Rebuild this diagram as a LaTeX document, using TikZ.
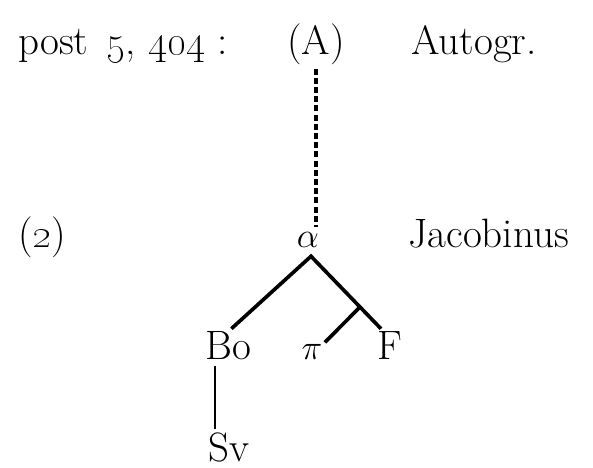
\documentclass[tikz,border=0pt]{standalone}
\usetikzlibrary{calc}
\begin{document}
\begin{tikzpicture}[x=2.5mm,y=2.5mm,
	every node/.style={inner sep=0pt,font=\fontsize{29.2pt}{35pt}\selectfont},
	branch/.style={line width=2.6pt},
	stem/.style={line width=1.7pt},
	lost/.style={line width=2.6pt,dash pattern=on 1.5mm off 0.8mm}]
	\useasboundingbox (0,0) rectangle (59.3,46.8);
	% top row
	\node[anchor=base west] (date) at (1.8,41.3) {post\hspace{0.45em}\oldstylenums{5}, \oldstylenums{404}\hspace{0.3em}:};
	\node[anchor=base] (A) at (31.6,41.3) {(A)};
	\node[anchor=base west] (autogr) at (41.1,41.3) {Autogr.};
	% second row
	\node[anchor=base west] (two) at (1.8,22.0) {(\textbf{\oldstylenums{2}})};
	\node[anchor=base] (alpha) at (30.8,22.0) {$\alpha$};
	\node[anchor=base west] (jacob) at (40.8,22.0) {Jacobinus};
	% witnesses
	\node[anchor=base west] (Bo) at (20.5,10.8) {Bo};
	\node[anchor=base] (pi) at (31.2,10.8) {$\pi$};
	\node[anchor=base west] (F) at (37.7,10.8) {F};
	\node[anchor=base west] (Sv) at (20.8,0.6) {Sv};
	% stemma
	\coordinate (top) at ($(alpha.south)+(0.3,-0.8)$);
	\coordinate (Fend) at ($(F.north west)+(0.4,0.3)$);
	\coordinate (fork) at ($(top)!0.7!(Fend)$);
	\draw[lost,shorten <=0.75mm,shorten >=1.35mm] (A.south) -- (A.south |- alpha.north);
	\draw[branch,shorten <=1.1mm] (Bo.north) -- (top) -- (Fend);
	\draw[branch,shorten >=0.8mm] (fork) -- (pi.north east);
	\draw[stem,shorten <=1.25mm,shorten >=1mm] ([xshift=2.5mm]Bo.south west) -- ([xshift=2.5mm]Bo.south west |- Sv.north);
\end{tikzpicture}
\end{document}
